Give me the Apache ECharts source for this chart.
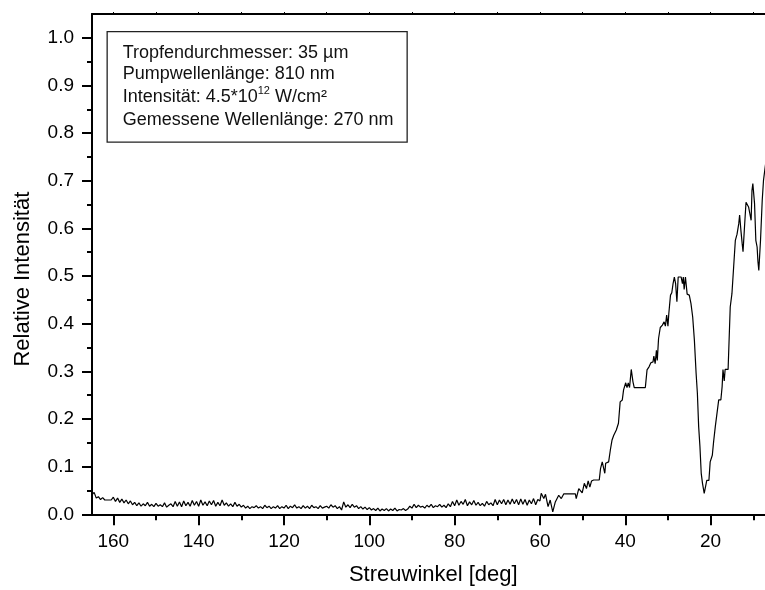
<!DOCTYPE html>
<html>
<head>
<meta charset="utf-8">
<title>Relative Intensität vs. Streuwinkel</title>
<script src="https://cdn.jsdelivr.net/npm/echarts@6/dist/echarts.min.js"></script>
<style>
  html, body { margin: 0; padding: 0; background: #fff; }
  #chart { width: 765px; height: 590px; }
</style>
</head>
<body>
<div id="chart"></div>
<script>
// Scattered intensity, sampled every 0.5 deg from 165 deg down to 60 deg
const baselineStart = 165;
const baselineStep = 0.5;
const baselineValues = [
  0.041, 0.046, 0.034, 0.037, 0.031, 0.035, 0.030, 0.030, 0.030, 0.030,
  0.036, 0.027, 0.034, 0.025, 0.032, 0.024, 0.030, 0.022, 0.028, 0.020,
  0.025, 0.018, 0.024, 0.017, 0.022, 0.018, 0.025, 0.017, 0.021, 0.016,
  0.023, 0.017, 0.020, 0.016, 0.024, 0.015, 0.019, 0.022, 0.016, 0.027,
  0.017, 0.026, 0.016, 0.028, 0.018, 0.025, 0.017, 0.029, 0.019, 0.027,
  0.017, 0.030, 0.019, 0.026, 0.018, 0.028, 0.020, 0.029, 0.017, 0.025,
  0.018, 0.030, 0.019, 0.024, 0.017, 0.022, 0.016, 0.025, 0.017, 0.021,
  0.015, 0.019, 0.013, 0.017, 0.012, 0.016, 0.014, 0.018, 0.013, 0.016,
  0.012, 0.019, 0.014, 0.017, 0.012, 0.016, 0.013, 0.018, 0.012, 0.016,
  0.013, 0.019, 0.012, 0.017, 0.014, 0.020, 0.013, 0.016, 0.012, 0.018,
  0.013, 0.017, 0.012, 0.019, 0.014, 0.016, 0.012, 0.018, 0.013, 0.015,
  0.017, 0.013, 0.020, 0.015, 0.018, 0.012, 0.016, 0.009, 0.026, 0.015,
  0.020, 0.014, 0.021, 0.015, 0.018, 0.012, 0.016, 0.011, 0.015, 0.010,
  0.014, 0.009, 0.012, 0.008, 0.013, 0.007, 0.011, 0.008, 0.012, 0.007,
  0.011, 0.008, 0.013, 0.007, 0.010, 0.009, 0.012, 0.008, 0.011, 0.017,
  0.013, 0.021, 0.014, 0.019, 0.015, 0.017, 0.013, 0.019, 0.015, 0.021,
  0.014, 0.018, 0.016, 0.021, 0.015, 0.019, 0.014, 0.022, 0.016, 0.027,
  0.018, 0.030, 0.019, 0.027, 0.021, 0.031, 0.018, 0.026, 0.020, 0.029,
  0.019, 0.025, 0.018, 0.023, 0.017, 0.027, 0.020, 0.024, 0.018, 0.031,
  0.020, 0.030, 0.022, 0.031, 0.020, 0.030, 0.021, 0.032, 0.022, 0.031,
  0.020, 0.032, 0.021, 0.031, 0.019, 0.030, 0.022, 0.033, 0.020, 0.031,
  0.028
];

// Forward-scattering region (angles in deg)
const peakAngles = [
  59.7, 59.1, 58.7, 58.1, 57.6, 57.0, 56.4, 55.6, 55.0, 54.4,
  51.7, 51.5, 50.9, 50.5, 50.1, 49.6, 49.1, 48.7, 48.3, 47.9,
  47.4, 46.1, 45.8, 45.4, 45.1, 44.8, 44.6, 43.9, 43.5, 43.1,
  42.7, 42.1, 41.6, 41.2, 40.7, 40.4, 39.9, 39.6, 39.3, 39.0,
  38.6, 38.2, 37.9, 35.3, 34.9, 34.4, 34.0, 33.5, 33.3, 33.0,
  32.7, 32.5, 32.2, 31.8, 31.3, 30.9, 30.6, 30.3, 30.0, 29.8,
  29.4, 29.1, 28.8, 28.5, 28.2, 27.9, 27.6, 27.3, 26.9, 26.6,
  26.4, 26.2, 25.9, 25.5, 25.0, 24.6, 24.2, 23.8, 23.4, 23.1,
  22.8, 22.5, 22.2, 21.9, 21.5, 21.1, 20.9, 20.4, 20.1, 19.6,
  19.3, 18.9, 18.5, 18.1, 17.6, 17.3, 17.1, 16.8, 16.6, 15.9,
  15.4, 15.0, 14.6, 14.2, 13.8, 13.4, 13.2, 12.9, 12.6, 12.4,
  12.1, 11.7, 11.3, 11.1, 10.9, 10.5, 10.3, 10.1, 9.7, 9.4,
  9.1, 8.9, 8.7, 8.3, 7.9, 7.6, 7.2, 6.8
];
const peakValues = [
  0.044, 0.033, 0.042, 0.016, 0.030, 0.005, 0.026, 0.040, 0.033, 0.043,
  0.043, 0.033, 0.054, 0.058, 0.045, 0.065, 0.054, 0.070, 0.057, 0.070,
  0.072, 0.072, 0.096, 0.110, 0.107, 0.086, 0.107, 0.110, 0.135, 0.156,
  0.166, 0.177, 0.191, 0.236, 0.240, 0.261, 0.276, 0.266, 0.276, 0.266,
  0.304, 0.278, 0.266, 0.266, 0.303, 0.310, 0.318, 0.320, 0.332, 0.316,
  0.344, 0.323, 0.369, 0.392, 0.397, 0.404, 0.395, 0.418, 0.395, 0.421,
  0.460, 0.465, 0.484, 0.498, 0.484, 0.446, 0.498, 0.498, 0.498, 0.484,
  0.498, 0.472, 0.498, 0.462, 0.460, 0.442, 0.414, 0.365, 0.296, 0.254,
  0.184, 0.142, 0.086, 0.065, 0.044, 0.044, 0.071, 0.071, 0.110, 0.124,
  0.152, 0.184, 0.187, 0.240, 0.240, 0.268, 0.304, 0.280, 0.304, 0.304,
  0.435, 0.463, 0.519, 0.575, 0.588, 0.610, 0.628, 0.596, 0.568, 0.551,
  0.596, 0.655, 0.655, 0.645, 0.641, 0.617, 0.680, 0.694, 0.652, 0.575,
  0.561, 0.530, 0.512, 0.575, 0.659, 0.701, 0.729, 0.755
];

// Axis ticks
const xMajorTicks = [160, 140, 120, 100, 80, 60, 40, 20];
const xMinorTicks = [150, 130, 110, 90, 70, 50, 30, 10];
const xTopTicks = [160, 150, 140, 130, 120, 110, 100, 90, 80, 70, 60, 50, 40, 30, 20, 10];
const yMajorTicks = [0, 0.1, 0.2, 0.3, 0.4, 0.5, 0.6, 0.7, 0.8, 0.9, 1.0];
const yMinorTicks = [0.05, 0.15, 0.25, 0.35, 0.45, 0.55, 0.65, 0.75, 0.85, 0.95];

const infoLines = [
  'Tropfendurchmesser: 35 µm',
  'Pumpwellenlänge: 810 nm',
  ['Intensität: 4.5*10', '12', ' W/cm²'],
  'Gemessene Wellenlänge: 270 nm'
];

const FONT = 'Liberation Sans, Arial, Helvetica, sans-serif';

const curve = [];
baselineValues.forEach((v, i) => curve.push([baselineStart - i * baselineStep, v]));
peakAngles.forEach((a, i) => curve.push([a, peakValues[i]]));

const chart = echarts.init(document.getElementById('chart'), null, { renderer: 'canvas' });

const lineStyle = { color: '#000', width: 2 };

const baseX = {
  type: 'value', gridIndex: 0, min: 5, max: 165, inverse: true,
  splitLine: { show: false }
};
const baseY = {
  type: 'value', gridIndex: 0, min: 0, max: 1.05,
  splitLine: { show: false }
};

chart.setOption({
  animation: false,
  backgroundColor: '#fff',
  textStyle: { fontFamily: FONT },
  grid: { left: 92, top: 14, width: 682.6, height: 500.3, containLabel: false, outerBoundsMode: 'none' },
  xAxis: [
    Object.assign({}, baseX, {
      position: 'bottom',
      name: 'Streuwinkel [deg]',
      nameLocation: 'middle',
      nameGap: 50,
      nameTextStyle: { fontSize: 22, color: '#000', fontFamily: FONT },
      axisLine: { onZero: false, lineStyle },
      axisTick: { show: true, length: 11, inside: false, customValues: xMajorTicks, lineStyle },
      axisLabel: { show: true, margin: 18, fontSize: 19, color: '#000', fontFamily: FONT, customValues: xMajorTicks }
    }),
    Object.assign({}, baseX, {
      position: 'bottom',
      axisLine: { show: false, onZero: false },
      axisTick: { show: true, length: 6, customValues: xMinorTicks, lineStyle },
      axisLabel: { show: false }
    }),
    Object.assign({}, baseX, {
      position: 'top',
      axisLine: { show: true, onZero: false, lineStyle },
      axisTick: { show: true, length: 2, customValues: xTopTicks, lineStyle: { color: '#000', width: 1 } },
      axisLabel: { show: false }
    })
  ],
  yAxis: [
    Object.assign({}, baseY, {
      position: 'left',
      name: 'Relative Intensität',
      nameLocation: 'middle',
      nameGap: 58,
      nameTextStyle: { fontSize: 22, color: '#000', fontFamily: FONT, padding: [0, 30, 0, 0] },
      axisLine: { show: true, onZero: false, lineStyle },
      axisTick: { show: true, length: 10, customValues: yMajorTicks, lineStyle },
      axisLabel: {
        show: true, margin: 18, fontSize: 19, color: '#000', fontFamily: FONT,
        customValues: yMajorTicks, formatter: v => v.toFixed(1)
      }
    }),
    Object.assign({}, baseY, {
      position: 'left',
      axisLine: { show: false, onZero: false },
      axisTick: { show: true, length: 5, customValues: yMinorTicks, lineStyle },
      axisLabel: { show: false }
    })
  ],
  series: [{
    type: 'line',
    xAxisIndex: 0,
    yAxisIndex: 0,
    data: curve,
    showSymbol: false,
    symbol: 'none',
    clip: true,
    lineStyle: { color: '#000', width: 1.2 },
    emphasis: { disabled: true }
  }],
  graphic: [{
    type: 'group',
    left: 106.5,
    top: 31,
    children: [
      {
        type: 'rect',
        shape: { x: 0, y: 0, width: 300, height: 110.5 },
        style: { fill: '#fff', stroke: '#222', lineWidth: 1.3 }
      },
      { type: 'text', x: 15.5, y: 21, style: { text: infoLines[0], font: '18px ' + FONT, fill: '#111', verticalAlign: 'middle' } },
      { type: 'text', x: 15.5, y: 42.5, style: { text: infoLines[1], font: '18px ' + FONT, fill: '#111', verticalAlign: 'middle' } },
      {
        type: 'text', x: 15.5, y: 65,
        style: {
          text: '{n|' + infoLines[2][0] + '}{s|' + infoLines[2][1] + '}{n|' + infoLines[2][2] + '}',
          verticalAlign: 'middle',
          rich: {
            n: { fontSize: 18, fontFamily: FONT, fill: '#111', lineHeight: 22 },
            s: { fontSize: 11, fontFamily: FONT, fill: '#111', verticalAlign: 'top', lineHeight: 22 }
          }
        }
      },
      { type: 'text', x: 15.5, y: 88.5, style: { text: infoLines[3], font: '18px ' + FONT, fill: '#111', verticalAlign: 'middle' } }
    ]
  }]
});
</script>
</body>
</html>
